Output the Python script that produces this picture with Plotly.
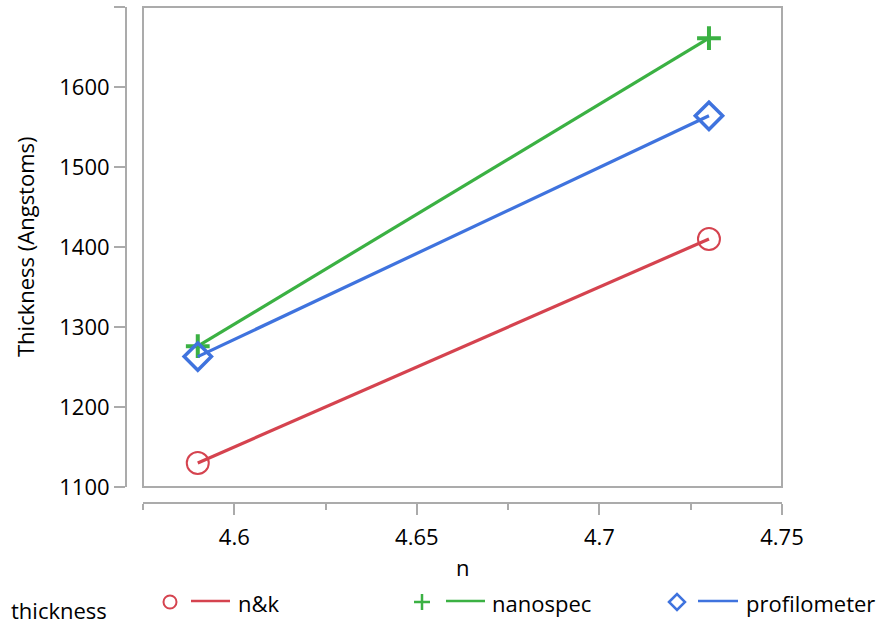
import plotly.graph_objects as go

# ---- data ----
n_vals = [4.59, 4.73]
nk_thickness = [1130, 1410]
nanospec_thickness = [1276, 1661]
profilometer_thickness = [1263, 1564]
series_names = ["n&k", "nanospec", "profilometer"]
legend_title = "thickness"
x_title = "n"
y_title = "Thickness (Angstoms)"
x_tickvals = [4.6, 4.65, 4.7, 4.75]
x_ticktext = ["4.6", "4.65", "4.7", "4.75"]
x_minor = [4.575, 4.625, 4.675, 4.725]
y_tickvals = [1100, 1200, 1300, 1400, 1500, 1600, 1700]
y_ticktext = ["1100", "1200", "1300", "1400", "1500", "1600", ""]

# ---- style ----
RED = "#D5434F"
GREEN = "#3BB143"
BLUE = "#3F73DE"
GRAY = "#ABABAB"
FONT = "Open Sans"
FS = 22
W, H = 879, 624
ML, MR, MT, MB = 126, 97, 7, 121
PW, PH = W - ML - MR, H - MT - MB


def pxx(px):
    return (px - ML) / PW


def pxy(py):
    return (H - MB - py) / PH


fig = go.Figure()
styles = [
    (nk_thickness, RED, "circle-open", 22, 2),
    (nanospec_thickness, GREEN, "cross-thin-open", 17, 4),
    (profilometer_thickness, BLUE, "diamond-open", 21, 3.5),
]
for name, (ys, col, sym, sz, lw) in zip(series_names, styles):
    fig.add_trace(go.Scatter(
        x=n_vals, y=ys, mode="lines", name=name,
        line=dict(color=col, width=3.2), showlegend=False, hoverinfo="skip"))
    fig.add_trace(go.Scatter(
        x=n_vals, y=ys, mode="markers", name=name,
        marker=dict(symbol=sym, size=sz, color=col, line=dict(color=col, width=lw)),
        showlegend=False))

xd0 = (143 - ML) / PW
yd0 = (503 - 487) / PH

fig.update_layout(
    width=W, height=H,
    margin=dict(l=ML, r=MR, t=MT, b=MB, pad=0),
    paper_bgcolor="white", plot_bgcolor="white",
    font=dict(family=FONT, size=FS, color="black"),
    xaxis=dict(
        domain=[xd0, 1], range=[4.575, 4.75], anchor="free", position=0,
        showgrid=False, zeroline=False, showline=True, linecolor=GRAY, linewidth=2,
        ticks="outside", ticklen=11, tickwidth=2, tickcolor=GRAY,
        tickvals=x_tickvals, ticktext=x_ticktext, ticklabelstandoff=4,
        minor=dict(tickvals=x_minor, ticks="outside", ticklen=6, tickwidth=2, tickcolor=GRAY),
        tickfont=dict(size=FS, family=FONT),
    ),
    yaxis=dict(
        domain=[yd0, 1], range=[1100, 1700], anchor="free", position=0,
        showgrid=False, zeroline=False, showline=True, linecolor=GRAY, linewidth=2,
        ticks="outside", ticklen=11, tickwidth=2, tickcolor=GRAY,
        tickvals=y_tickvals, ticktext=y_ticktext,
        tickfont=dict(size=FS, family=FONT),
    ),
)

# plot frame
fig.add_shape(type="rect", xref="x domain", yref="y domain", x0=0, x1=1, y0=0, y1=1,
              line=dict(color=GRAY, width=2), fillcolor="rgba(0,0,0,0)", layer="below")

# axis titles
fig.add_annotation(text=x_title, xref="paper", yref="paper", x=pxx(462.5), y=pxy(567),
                   showarrow=False, xanchor="center", yanchor="middle", font=dict(size=FS))
fig.add_annotation(text=y_title, xref="paper", yref="paper", x=pxx(25), y=pxy(247),
                   showarrow=False, textangle=-90, xanchor="center", yanchor="middle",
                   font=dict(size=FS))

# legend (drawn manually)
LY = 602
fig.add_annotation(text=legend_title, xref="paper", yref="paper", x=pxx(9), y=pxy(610),
                   showarrow=False, xanchor="left", yanchor="middle", font=dict(size=FS))
legend_pos = [(170, 191, 230, 236), (422, 446, 485, 490), (677, 698, 738, 744)]
legend_cols = [RED, GREEN, BLUE]
for i, (name, (mx, l0, l1, tx), col) in enumerate(zip(series_names, legend_pos, legend_cols)):
    if i == 0:
        fig.add_shape(type="circle", xref="paper", yref="paper",
                      xsizemode="pixel", ysizemode="pixel",
                      xanchor=pxx(mx), yanchor=pxy(LY),
                      x0=-6.5, x1=6.5, y0=-6.5, y1=6.5,
                      line=dict(color=col, width=2))
    elif i == 1:
        fig.add_shape(type="path", xref="paper", yref="paper",
                      xsizemode="pixel", ysizemode="pixel",
                      xanchor=pxx(mx), yanchor=pxy(LY),
                      path="M -8 0 L 8 0 M 0 -8 L 0 8",
                      line=dict(color=col, width=2.5))
    else:
        fig.add_shape(type="path", xref="paper", yref="paper",
                      xsizemode="pixel", ysizemode="pixel",
                      xanchor=pxx(mx), yanchor=pxy(LY),
                      path="M -8 0 L 0 8 L 8 0 L 0 -8 Z",
                      line=dict(color=col, width=2.5))
    fig.add_shape(type="line", xref="paper", yref="paper",
                  x0=pxx(l0), x1=pxx(l1), y0=pxy(LY - 1), y1=pxy(LY - 1),
                  line=dict(color=col, width=2.5))
    fig.add_annotation(text=name, xref="paper", yref="paper", x=pxx(tx), y=pxy(LY + 1),
                       showarrow=False, xanchor="left", yanchor="middle", font=dict(size=FS))

fig.write_html("out.html",
               config={"displayModeBar": False},
               post_script="document.body.style.margin='0px';document.body.style.overflow='hidden';")
